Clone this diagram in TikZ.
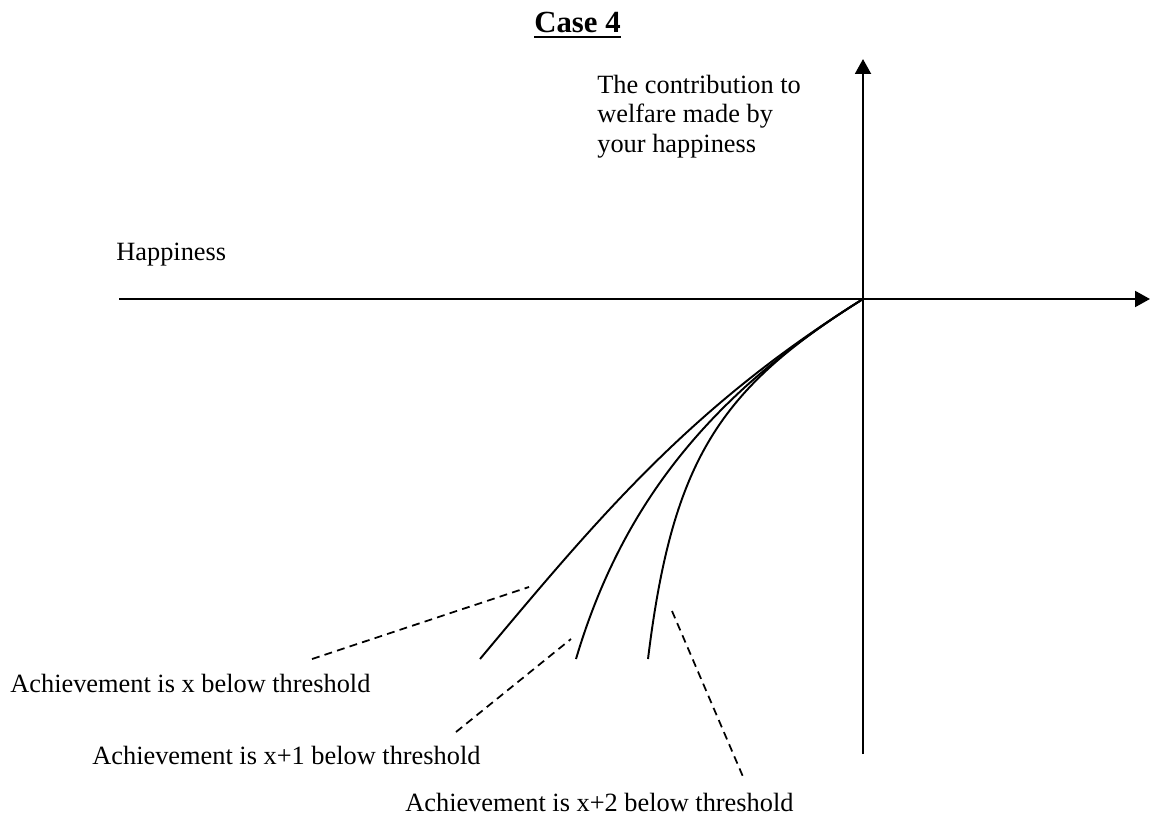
\documentclass[tikz,border=0pt]{standalone}
\usepackage{fontspec}
\setmainfont{Liberation Serif}
\usetikzlibrary{arrows.meta}
\begin{document}
\begin{tikzpicture}[x=0.02cm,y=-0.02cm,
  axis/.style={line width=1.4pt, -{Triangle[length=8.5pt,width=9pt]}},
  curve/.style={line width=1.1pt},
  leader/.style={line width=1pt, dash pattern=on 4.5pt off 3pt},
  lbl/.style={inner sep=0pt, anchor=base west, font=\fontsize{15}{16.7}\selectfont},
  ttl/.style={inner sep=0pt, anchor=base east, font=\fontsize{17.5}{20}\selectfont\bfseries}]
\useasboundingbox (0,0) rectangle (1150,818);
% axes
\coordinate (O) at (863,299);
\coordinate (xl) at (119,299);
\coordinate (xr) at (1150,299);
\coordinate (yb) at (863,754);
\coordinate (yt) at (863,59);
\draw[axis] (xl) -- (xr);
\draw[axis] (yb) -- (yt);
% curves
\coordinate (e1) at (480,659);
\coordinate (e2) at (576,659);
\coordinate (e3) at (648,659);
\draw[curve] (O) .. controls (693,405) and (602,513) .. (e1);
\draw[curve] (O) .. controls (718.8,389.1) and (624.3,496) .. (e2);
\draw[curve] (O) .. controls (718.8,389.1) and (672.4,460.4) .. (e3);
% leader lines
\coordinate (d1a) at (312,659);
\coordinate (d1b) at (529,587);
\coordinate (d2a) at (456,732);
\coordinate (d2b) at (571,639);
\coordinate (d3a) at (672,611);
\coordinate (d3b) at (744,779);
\draw[leader] (d1a) -- (d1b);
\draw[leader] (d2a) -- (d2b);
\draw[leader] (d3a) -- (d3b);
% labels
\node[lbl] (L1) at (10,692) {Achievement is x below threshold};
\node[lbl] (L2) at (92,764.5) {Achievement is x+1 below threshold};
\node[lbl] (L3) at (405,811.7) {Achievement is x+2 below threshold};
\node[lbl] (hap) at (116,260) {Happiness};
% multi-line node: its base is the baseline of the last line
\node[lbl, align=left] (ylab) at (597,152) {The contribution to\\welfare made by\\your happiness};
\node[ttl] (title) at (621,32) {Case 4};
\draw[line width=1.1pt] ([yshift=-2.8pt]title.base west) -- ([yshift=-2.8pt]title.base east);
\end{tikzpicture}
\end{document}
